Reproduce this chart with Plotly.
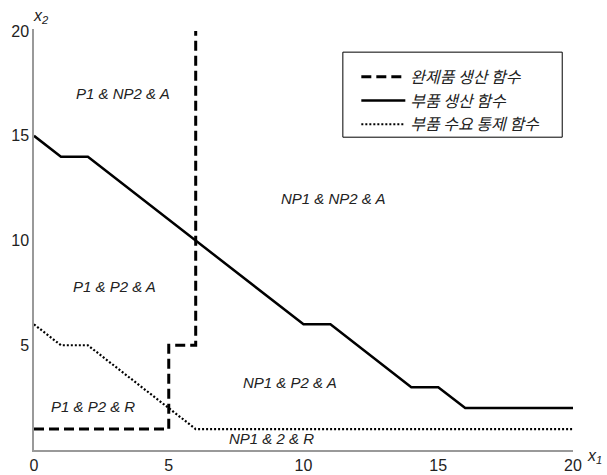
import plotly.graph_objects as go

# Data
final_x = [0, 5, 5, 6, 6]
final_y = [1, 1, 5, 5, 20]
part_x = [0, 1, 2, 10, 11, 14, 15, 16, 20]
part_y = [15, 14, 14, 6, 6, 3, 3, 2, 2]
demand_x = [0, 1, 2, 6, 20]
demand_y = [6, 5, 5, 1, 1]
series_names = ["완제품 생산 함수", "부품 생산 함수", "부품 수요 통제 함수"]
region_labels = ["P1 & NP2 & A", "NP1 & NP2 & A", "P1 & P2 & A", "NP1 & P2 & A", "P1 & P2 & R", "NP1 & 2 & R"]
region_x = [3.3, 11.1, 3.0, 9.5, 2.2, 8.8]
region_y = [17.0, 12.0, 7.8, 3.2, 2.1, 0.55]
tick_vals = [0, 5, 10, 15, 20]

fig = go.Figure()
fig.add_trace(go.Scatter(x=final_x, y=final_y, mode="lines", name="<i>" + series_names[0] + "</i>",
                         line=dict(color="black", width=3, dash="10px,5px")))
fig.add_trace(go.Scatter(x=part_x, y=part_y, mode="lines", name="<i>" + series_names[1] + "</i>",
                         line=dict(color="black", width=2.5)))
fig.add_trace(go.Scatter(x=demand_x, y=demand_y, mode="lines", name="<i>" + series_names[2] + "</i>",
                         line=dict(color="black", width=2.2, dash="2px,2px")))

for t, xx, yy in zip(region_labels, region_x, region_y):
    fig.add_annotation(x=xx, y=yy, text="<i>" + t + "</i>", showarrow=False,
                       font=dict(family="Liberation Sans", size=15, color="#222"))

fig.add_annotation(xref="paper", yref="paper", x=1.0, y=0.0, xanchor="left", yanchor="middle",
                   xshift=12, yshift=-6, text="<i>x<sub>1</sub></i>", showarrow=False,
                   font=dict(family="Liberation Sans", size=16, color="#222"))
fig.add_annotation(xref="paper", yref="paper", x=0.0, y=1.0, xanchor="center", yanchor="bottom",
                   xshift=7, yshift=1, text="<i>x<sub>2</sub></i>", showarrow=False,
                   font=dict(family="Liberation Sans", size=16, color="#222"))

# legend frame
fig.add_shape(type="rect", xref="paper", yref="paper", x0=0.573, x1=0.98, y0=0.743, y1=0.945,
              line=dict(color="black", width=1), fillcolor="white", layer="below")

fig.update_layout(
    width=607, height=475,
    margin=dict(l=34, r=34, t=29, b=25, autoexpand=False),
    plot_bgcolor="white", paper_bgcolor="white",
    font=dict(family="Liberation Sans", size=15, color="#222"),
    legend=dict(x=0.598, y=0.927, xanchor="left", yanchor="top",
                borderwidth=0, bgcolor="rgba(0,0,0,0)",
                font=dict(family="Noto Sans CJK KR", size=16, color="#222"),
                tracegroupgap=0, itemwidth=44),
    xaxis=dict(range=[0, 20], tickvals=tick_vals, showgrid=False, zeroline=False,
               showline=True, linecolor="#999", linewidth=1.5, ticks="",
               tickfont=dict(size=16), automargin=False),
    yaxis=dict(range=[0, 20.1], tickvals=[5, 10, 15, 20], showgrid=False, zeroline=False,
               showline=True, linecolor="#999", linewidth=1.5, ticks="",
               tickfont=dict(size=16), automargin=False),
)

fig.write_html("out.html", config={"displayModeBar": False},
               post_script="document.body.style.margin='0';document.body.style.overflow='hidden';")
